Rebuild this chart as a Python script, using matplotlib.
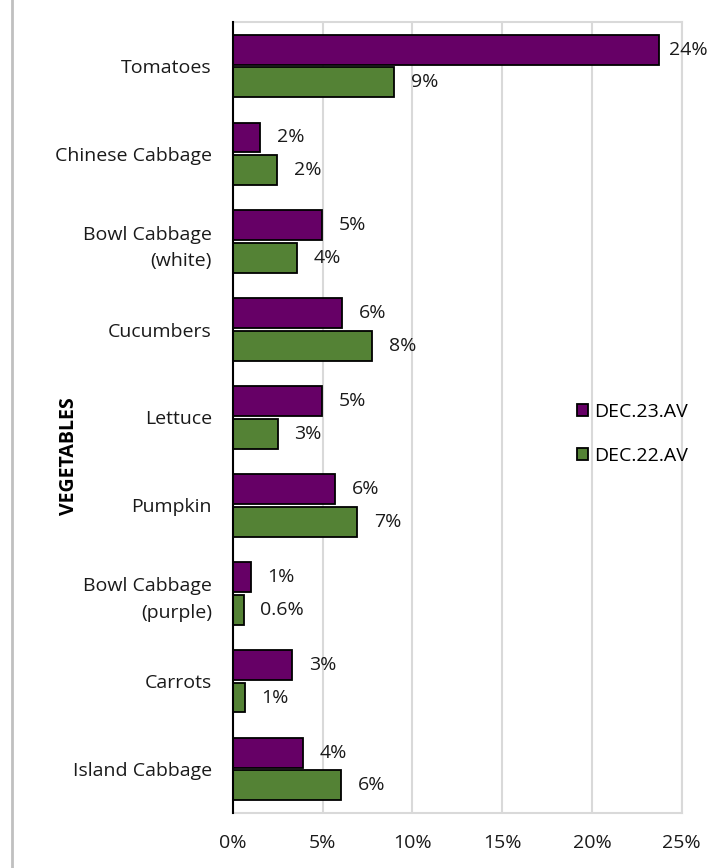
import numpy as np
import matplotlib.pyplot as plt
from matplotlib.patches import Patch
from matplotlib.lines import Line2D

plt.rcParams['font.family'] = ['Open Sans', 'DejaVu Sans']

categories = ['Tomatoes', 'Chinese Cabbage', 'Bowl Cabbage\n(white)', 'Cucumbers', 'Lettuce',
              'Pumpkin', 'Bowl Cabbage\n(purple)', 'Carrots', 'Island Cabbage']
dec23 = [23.74, 1.52, 4.95, 6.09, 4.95, 5.68, 1.02, 3.30, 3.93]
dec22 = [9.00, 2.48, 3.60, 7.76, 2.50, 6.92, 0.61, 0.67, 6.03]
labels23 = ['24%', '2%', '5%', '6%', '5%', '6%', '1%', '3%', '4%']
labels22 = ['9%', '2%', '4%', '8%', '3%', '7%', '0.6%', '1%', '6%']
xticks = [0, 5, 10, 15, 20, 25]

purple = '#660066'
green = '#548235'
grid = '#d9d9d9'

W, H = 711, 868
fig = plt.figure(figsize=(W / 100, H / 100), dpi=100)
ax = fig.add_axes([232.7 / W, 1 - 813 / H, (681.7 - 232.7) / W, (813 - 22) / H])

y = np.arange(len(categories))
h = 0.34
off = 0.186
b23 = ax.barh(y - off, dec23, height=h, color=purple, edgecolor='black', linewidth=1.3, zorder=3)
b22 = ax.barh(y + off, dec22, height=h, color=green, edgecolor='black', linewidth=1.3, zorder=3)

for bars, labs in ((b23, labels23), (b22, labels22)):
    for bar, lab in zip(bars, labs):
        # labels near the right edge sit a bit closer to the bar so they fit
        dx = 7 if bar.get_width() > 22 else 12
        ax.annotate(lab, (bar.get_width(), bar.get_y() + bar.get_height() / 2),
                    xytext=(dx, 0), textcoords='offset points',
                    va='center', ha='left', fontsize=14, color='#1a1a1a')

ax.set_xlim(0, 25)
ax.set_ylim(len(categories) - 0.5, -0.5)
ax.set_xticks(xticks)
ax.set_xticklabels([f'{t}%' for t in xticks], fontsize=14, color='#1a1a1a')
ax.set_yticks(y)
ax.set_yticklabels(categories, fontsize=14, color='#1a1a1a', linespacing=1.6)
ax.tick_params(axis='both', length=0)
ax.tick_params(axis='x', pad=15)
ax.tick_params(axis='y', pad=15)
ax.grid(axis='x', color=grid, linewidth=1.5, zorder=0)
ax.set_axisbelow(True)
for side in ('top', 'right', 'bottom'):
    ax.spines[side].set_color(grid)
    ax.spines[side].set_linewidth(1.5)
ax.spines['left'].set_color('black')
ax.spines['left'].set_linewidth(1.5)
ax.spines['left'].set_zorder(4)

fig.text(69 / W, 1 - 456 / H, 'VEGETABLES', rotation=90, fontsize=14, fontweight='bold',
         ha='center', va='center')

handles = [Patch(facecolor=purple, edgecolor='black', linewidth=1.3),
           Patch(facecolor=green, edgecolor='black', linewidth=1.3)]
fig.legend(handles, ['DEC.23.AV', 'DEC.22.AV'], loc='center left',
           bbox_to_anchor=(577 / W, 1 - 434 / H), frameon=False, fontsize=14,
           handlelength=0.55, handleheight=0.55, handletextpad=0.35, labelspacing=1.35,
           borderpad=0, borderaxespad=0)

fig.add_artist(Line2D([12 / W, 12 / W], [0, 1], transform=fig.transFigure, color='#c0c0c0', linewidth=2))

fig.savefig('out.png', dpi=100)
